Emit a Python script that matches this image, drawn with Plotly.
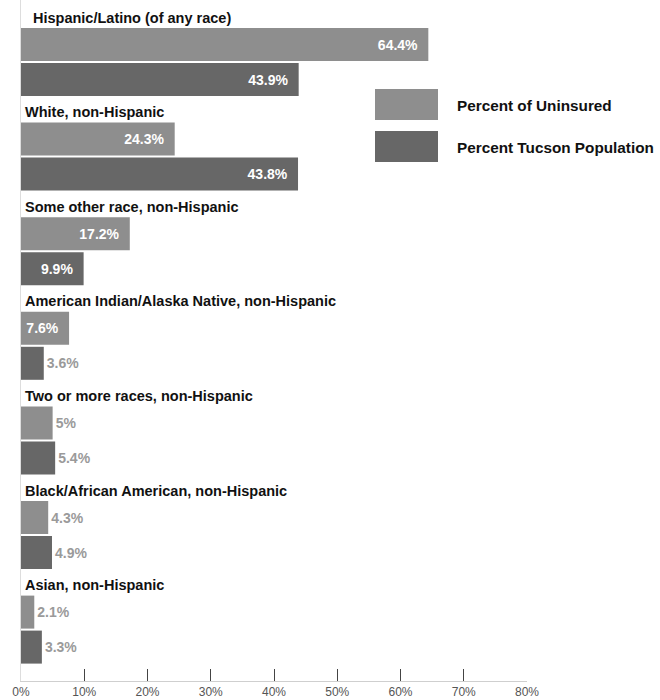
import plotly.graph_objects as go

groups = [
    "Hispanic/Latino (of any race)",
    "White, non-Hispanic",
    "Some other race, non-Hispanic",
    "American Indian/Alaska Native, non-Hispanic",
    "Two or more races, non-Hispanic",
    "Black/African American, non-Hispanic",
    "Asian, non-Hispanic",
]
pct_uninsured = [64.4, 24.3, 17.2, 7.6, 5.0, 4.3, 2.1]
pct_population = [43.9, 43.8, 9.9, 3.6, 5.4, 4.9, 3.3]
uninsured_text = ["64.4%", "24.3%", "17.2%", "7.6%", "5%", "4.3%", "2.1%"]
population_text = ["43.9%", "43.8%", "9.9%", "3.6%", "5.4%", "4.9%", "3.3%"]
tick_vals = [0, 10, 20, 30, 40, 50, 60, 70, 80]
tick_text = ["0%", "10%", "20%", "30%", "40%", "50%", "60%", "70%", "80%"]

C_UNINS = "#8e8e8e"
C_POP = "#676767"
FONT = "Liberation Sans"

# vertical layout (y axis in screen-like units, reversed)
PITCH = 94.6
FIRST = 44.5
GAP = 35.0
BAR_W = 33.0
y_unins = [FIRST + i * PITCH for i in range(len(groups))]
y_pop = [y + GAP for y in y_unins]
y_label = [y - 27 for y in y_unins]

INSIDE_MIN = 7
PAD = "\u00a0\u00a0"


def positions(vals):
    return ["inside" if v >= INSIDE_MIN else "outside" for v in vals]


def text_colors(vals):
    return ["white" if v >= INSIDE_MIN else "#9a9a9a" for v in vals]


def padded(vals, texts):
    return [t + PAD if v >= INSIDE_MIN else t for v, t in zip(vals, texts)]


fig = go.Figure()
fig.add_trace(go.Bar(
    name="Percent of Uninsured", orientation="h",
    x=pct_uninsured, y=y_unins, width=BAR_W,
    marker=dict(color=C_UNINS, line=dict(width=0)),
    text=padded(pct_uninsured, uninsured_text),
    textposition=positions(pct_uninsured),
    insidetextanchor="end",
    textfont=dict(family=FONT, size=14, color=text_colors(pct_uninsured), weight="bold"),
    cliponaxis=False, showlegend=False,
))
fig.add_trace(go.Bar(
    name="Percent Tucson Population", orientation="h",
    x=pct_population, y=y_pop, width=BAR_W,
    marker=dict(color=C_POP, line=dict(width=0)),
    text=padded(pct_population, population_text),
    textposition=positions(pct_population),
    insidetextanchor="end",
    textfont=dict(family=FONT, size=14, color=text_colors(pct_population), weight="bold"),
    cliponaxis=False, showlegend=False,
))

# group headings above each pair of bars
for i, (g, yl) in enumerate(zip(groups, y_label)):
    fig.add_annotation(
        x=0, y=yl, xref="x", yref="y", text="<b>%s</b>" % g,
        showarrow=False, xanchor="left", yanchor="middle",
        xshift=10 if i == 0 else 2,
        font=dict(family=FONT, size=14.5, color="#111111"),
    )

# legend drawn as swatches + labels
legend_items = [("Percent of Uninsured", C_UNINS), ("Percent Tucson Population", C_POP)]
leg_y = [105, 147]
for (lab, col), yy in zip(legend_items, leg_y):
    fig.add_shape(
        type="rect", xref="paper", yref="y",
        x0=(375 - 21) / 506, x1=(438 - 21) / 506,
        y0=yy - 16, y1=yy + 15,
        fillcolor=col, line=dict(width=0), layer="above",
    )
    fig.add_annotation(
        xref="paper", yref="y", x=(455 - 21) / 506, y=yy,
        text="<b>%s</b>" % lab, showarrow=False,
        xanchor="left", yanchor="middle",
        font=dict(family=FONT, size=15.3, color="#111111"),
    )

fig.update_layout(
    width=660, height=700,
    margin=dict(l=21, r=133, t=0, b=19),
    paper_bgcolor="white", plot_bgcolor="white",
    barmode="overlay",
    uniformtext=dict(mode=False),
    xaxis=dict(
        range=[0, 80], tickvals=tick_vals, ticktext=tick_text,
        showgrid=False, zeroline=False,
        showline=True, linecolor="#cfcfcf", linewidth=1,
        ticks="inside", ticklen=12, tickcolor="#444444", tickwidth=1,
        tickfont=dict(family=FONT, size=12, color="#555555"),
        fixedrange=True,
    ),
    yaxis=dict(
        range=[681, 0], showticklabels=False, showgrid=False,
        zeroline=False, showline=True, linecolor="#dddddd", linewidth=1,
        ticks="", fixedrange=True,
    ),
)

fig.write_html("out.html")
